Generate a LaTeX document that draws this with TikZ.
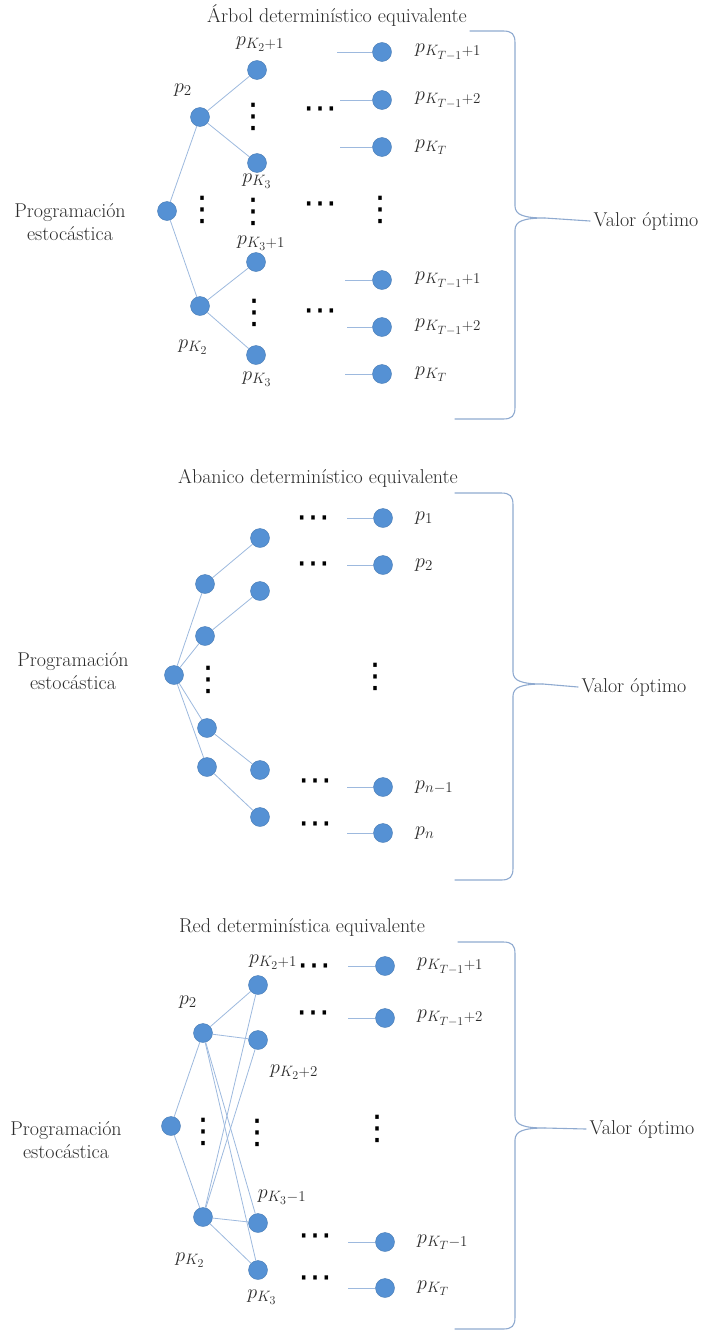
\documentclass[tikz,border=0pt]{standalone}
\usepackage{fix-cm}
\usepackage{fontspec}
\usepackage{tikz}
\usetikzlibrary{calc}
\newfontfamily\dotsfont{DejaVu Sans}
\DeclareMathSizes{20}{20}{15}{12}
\definecolor{nodeColor}{HTML}{5591D4}
\definecolor{linkColor}{HTML}{9DB9DE}
\definecolor{braceColor}{HTML}{8FAAD0}
\definecolor{textColor}{HTML}{2B2B2B}
\tikzset{
  scenario/.style={
    circle,
    fill=nodeColor,
    draw=nodeColor!85!black,
    line width=0.4pt,
    minimum size=19pt,
    inner sep=0pt
  },
  link/.style={
    draw=linkColor,
    line width=0.8pt
  },
  braceLine/.style={
    draw=braceColor,
    line width=1.1pt,
    line cap=round
  },
  plabel/.style={
    inner sep=1pt
  },
  dotsText/.style={
    font=\dotsfont\fontsize{34}{34}\selectfont,
    inner sep=0pt,
    text=black
  }
}

\begin{document}
\begin{tikzpicture}[x=1pt, y=-1pt,
  every node/.append style={font=\fontsize{20}{23}\selectfont, text=textColor}]
\useasboundingbox (0,0) rectangle (703,1333);

% ================= Arbol deterministico equivalente =================
\node (titA) at (337,16) {Árbol determinístico equivalente};
\node[align=center] (progA) at (70,222) {Programación\\estocástica};

\node[scenario] (A0) at (167,211) {};
\node[scenario] (A2) at (200,117) {};
\node[scenario] (AK) at (200,306) {};
\node[scenario] (A21) at (257,70) {};
\node[scenario] (A22) at (257,163) {};
\node[scenario] (A31) at (256,262) {};
\node[scenario] (A32) at (256,355) {};

\draw[link] (A0) -- (A2);
\draw[link] (A0) -- (AK);
\draw[link] (A2) -- (A21);
\draw[link] (A2) -- (A22);
\draw[link] (AK) -- (A31);
\draw[link] (AK) -- (A32);

\node[plabel] (lA2) at (183,90) {$p_2$};
\node[plabel] (lAK) at (193,347) {$p_{K_2}$};
\node[plabel] (lA21) at (260,44) {$p_{K_2+1}$};
\node[plabel] (lA22) at (257,181) {$p_{K_3}$};
\node[plabel] (lA31) at (261,243) {$p_{K_3+1}$};
\node[plabel] (lA32) at (257,379) {$p_{K_3}$};

% dots
\node[dotsText] (vA1) at (253,117) {⋮};
\node[dotsText] (vA2) at (202,210) {⋮};
\node[dotsText] (vA3) at (253,212) {⋮};
\node[dotsText] (vA4) at (380,210) {⋮};
\node[dotsText] (vA5) at (254,313) {⋮};
\node[dotsText] (hA1) at (320,113) {⋯};
\node[dotsText] (hA2) at (320,208) {⋯};
\node[dotsText] (hA3) at (320,315) {⋯};

% last stage
\foreach \n/\y/\sx/\t in {1/52/337/{p_{K_{T-1}+1}}, 2/100/340/{p_{K_{T-1}+2}},
    3/147/340/{p_{K_T}}, 4/280/345/{p_{K_{T-1}+1}}, 5/327/347/{p_{K_{T-1}+2}},
    6/374/345/{p_{K_T}}}{
  \node[scenario] (Ar\n) at (382,\y) {};
  \coordinate (As\n) at (\sx,\y);
  \draw[link] (As\n) -- (Ar\n);
  \node[plabel, anchor=west] (Al\n) at (414,\y) {$\t$};
}

% brace
\draw[braceLine] (470,31) -- (503,31) .. controls (512,31) and (515,34) .. (515,43)
  -- (515,206) .. controls (515,215) and (524,218) .. (545,218) coordinate (tipA)
  .. controls (524,218) and (515,221) .. (515,230)
  -- (515,407) .. controls (515,416) and (512,419) .. (503,419) -- (455,419);
\node[anchor=west] (valA) at (590,221) {Valor óptimo};
\draw[braceLine] (tipA) -- (valA.west);

% ================= Abanico deterministico equivalente =================
\node (titB) at (318,478) {Abanico determinístico equivalente};
\node[align=center] (progB) at (73,671) {Programación\\estocástica};

\node[scenario] (B0) at (174,675) {};
\node[scenario] (B1) at (205,584) {};
\node[scenario] (B2) at (205,636) {};
\node[scenario] (B3) at (207,728) {};
\node[scenario] (B4) at (207,767) {};
\node[scenario] (C1) at (260,538) {};
\node[scenario] (C2) at (260,591) {};
\node[scenario] (C3) at (260,770) {};
\node[scenario] (C4) at (260,817) {};

\draw[link] (B0) -- (B1);
\draw[link] (B0) -- (B2);
\draw[link] (B0) -- (B3);
\draw[link] (B0) -- (B4);
\draw[link] (B1) -- (C1);
\draw[link] (B2) -- (C2);
\draw[link] (B3) -- (C3);
\draw[link] (B4) -- (C4);

\node[dotsText] (vB1) at (208,680) {⋮};
\node[dotsText] (vB2) at (375,677) {⋮};
\node[dotsText] (hB1) at (313,522) {⋯};
\node[dotsText] (hB2) at (313,568) {⋯};
\node[dotsText] (hB3) at (315,785) {⋯};
\node[dotsText] (hB4) at (315,828) {⋯};

\foreach \n/\y/\t in {1/518/{p_1}, 2/565/{p_2}, 3/787/{p_{n-1}}, 4/833/{p_n}}{
  \node[scenario] (Br\n) at (383,\y) {};
  \coordinate (Bs\n) at (347,\y);
  \draw[link] (Bs\n) -- (Br\n);
  \node[plabel, anchor=west] (Bl\n) at (414,\y) {$\t$};
}

\draw[braceLine] (455,493) -- (501,493) .. controls (510,493) and (513,496) .. (513,505)
  -- (513,672) .. controls (513,681) and (522,684) .. (543,684) coordinate (tipB)
  .. controls (522,684) and (513,687) .. (513,696)
  -- (513,868) .. controls (513,877) and (510,880) .. (501,880) -- (455,880);
\node[anchor=west] (valB) at (578,687) {Valor óptimo};
\draw[braceLine] (tipB) -- (valB.west);

% ================= Red deterministica equivalente =================
\node (titC) at (302,927) {Red determinística equivalente};
\node[align=center] (progC) at (66,1140) {Programación\\estocástica};

\node[scenario] (D0) at (171,1126) {};
\node[scenario] (D2) at (203,1033) {};
\node[scenario] (DK) at (203,1217) {};
\node[scenario] (E1) at (258,985) {};
\node[scenario] (E2) at (258,1040) {};
\node[scenario] (E3) at (258,1223) {};
\node[scenario] (E4) at (258,1270) {};

\draw[link] (D0) -- (D2);
\draw[link] (D0) -- (DK);
\foreach \e in {E1,E2,E3,E4}{
  \draw[link] (D2) -- (\e);
  \draw[link] (DK) -- (\e);
}

\node[plabel] (lD2) at (188,1002) {$p_2$};
\node[plabel] (lDK) at (190,1260) {$p_{K_2}$};
\node[plabel] (lE1) at (273,962) {$p_{K_2+1}$};
\node[plabel] (lE2) at (294,1072) {$p_{K_2+2}$};
\node[plabel] (lE3) at (282,1197) {$p_{K_3-1}$};
\node[plabel] (lE4) at (262,1297) {$p_{K_3}$};

\node[dotsText] (vD1) at (203,1132) {⋮};
\node[dotsText] (vD2) at (257,1133) {⋮};
\node[dotsText] (vD3) at (377,1129) {⋮};
\node[dotsText] (hD1) at (314,970) {⋯};
\node[dotsText] (hD2) at (313,1017) {⋯};
\node[dotsText] (hD3) at (315,1240) {⋯};
\node[dotsText] (hD4) at (315,1282) {⋯};

\foreach \n/\y/\t in {1/966/{p_{K_{T-1}+1}}, 2/1018/{p_{K_{T-1}+2}},
    3/1242/{p_{K_T-1}}, 4/1288/{p_{K_T}}}{
  \node[scenario] (Dr\n) at (385,\y) {};
  \coordinate (Ds\n) at (348,\y);
  \draw[link] (Ds\n) -- (Dr\n);
  \node[plabel, anchor=west] (Dl\n) at (416,\y) {$\t$};
}

\draw[braceLine] (458,942) -- (503,942) .. controls (512,942) and (515,945) .. (515,954)
  -- (515,1116) .. controls (515,1125) and (524,1128) .. (545,1128) coordinate (tipC)
  .. controls (524,1128) and (515,1131) .. (515,1140)
  -- (515,1317) .. controls (515,1326) and (512,1329) .. (503,1329) -- (455,1329);
\node[anchor=west] (valC) at (586,1129) {Valor óptimo};
\draw[braceLine] (tipC) -- (valC.west);

\end{tikzpicture}
\end{document}
